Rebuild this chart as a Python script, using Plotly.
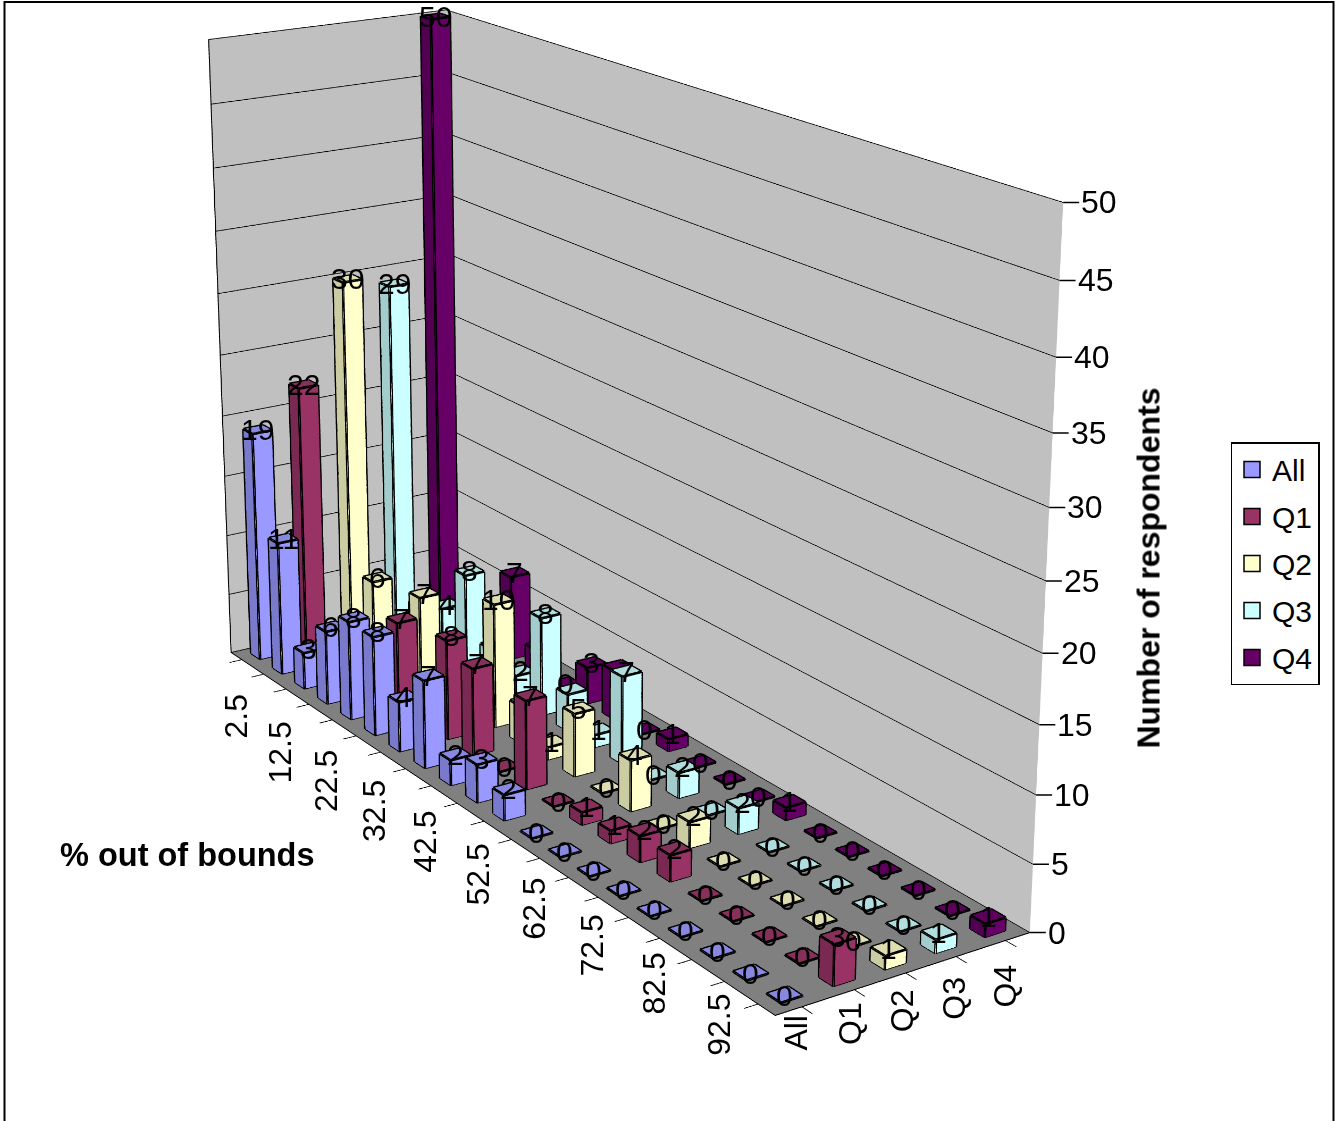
import plotly.graph_objects as go

# bins of % out of bounds, only every other one gets a label
categories = [2.5, 7.5, 12.5, 17.5, 22.5, 27.5, 32.5, 37.5, 42.5, 47.5,
              52.5, 57.5, 62.5, 67.5, 72.5, 77.5, 82.5, 87.5, 92.5, 97.5]
tick_labels = ['2.5', '12.5', '22.5', '32.5', '42.5', '52.5', '62.5', '72.5', '82.5', '92.5']
series_names = ['All', 'Q1', 'Q2', 'Q3', 'Q4']
z_ticks = [0, 5, 10, 15, 20, 25, 30, 35, 40, 45, 50]

all_values = [19, 11, 3, 6, 8, 8, 4, 7, 2, 3, 2, 0, 0, 0, 0, 0, 0, 0, 0, 0]
q1_values = [22, 2, 3, 4, 7, 1, 8, 7, 0, 7, 0, 1, 1, 2, 2, 0, 0, 0, 0, 3]
q2_values = [30, 6, 2, 7, 1, 1, 10, 3, 1, 5, 0, 4, 0, 2, 0, 0, 0, 0, 0, 1]
q3_values = [29, 3, 4, 8, 3, 2, 8, 3, 1, 7, 0, 2, 0, 2, 0, 0, 0, 0, 0, 1]
q4_values = [50, 1, 0, 7, 2, 0, 3, 4, 0, 1, 0, 0, 0, 1, 0, 0, 0, 0, 0, 1]
series_values = [all_values, q1_values, q2_values, q3_values, q4_values]

# bars that sit behind others, their numbers can't be seen
hidden_labels = [(1, 1), (1, 2), (1, 3), (1, 5), (2, 2), (2, 4), (2, 5), (2, 7),
                 (3, 1), (3, 4), (3, 7), (4, 1), (4, 2), (4, 4), (4, 7)]

light = ['#9999FF', '#993366', '#FFFFCC', '#CCFFFF', '#660066']
dark = ['#7A7ACC', '#7A2952', '#CCCCA3', '#A3CCCC', '#520052']
top = ['#8888E0', '#88305C', '#DDDDB0', '#B0DDDD', '#5C005C']

bar_w = 0.41
label_size = 30
axis_size = 32

# plotly's 3d camera has a fixed wide lens, the original is much flatter.
# so draw on a bigger canvas and only show the part around the chart
zoom = 2.5
page_w, page_h = 1339, 1121
canvas_w, canvas_h = int(page_w * zoom), int(page_h * zoom)
off_x = canvas_w / 2 - 592
off_y = canvas_h / 2 - 457


def px(x):
    return (x + off_x) / canvas_w


def py(y):
    return 1 - (y + off_y) / canvas_h


fig = go.Figure()

for j, values in enumerate(series_values):
    xs, ys, zs, fi, fj, fk, fc = [], [], [], [], [], [], []
    ex, ey, ez = [], [], []
    for i, v in enumerate(values):
        h = max(v, 0.05)  # flat ones still have to clear the floor
        x0, x1 = i - bar_w / 2, i + bar_w / 2
        y0, y1 = j - bar_w / 2, j + bar_w / 2
        n = len(xs)
        xs += [x0, x1, x1, x0, x0, x1, x1, x0]
        ys += [y0, y0, y1, y1, y0, y0, y1, y1]
        zs += [0, 0, 0, 0, h, h, h, h]
        faces = [((4, 5, 6), top[j]), ((4, 6, 7), top[j]),
                 ((0, 1, 5), dark[j]), ((0, 5, 4), dark[j]),
                 ((1, 2, 6), light[j]), ((1, 6, 5), light[j]),
                 ((2, 3, 7), light[j]), ((2, 7, 6), light[j]),
                 ((3, 0, 4), dark[j]), ((3, 4, 7), dark[j])]
        for (a, b, c), col in faces:
            fi.append(n + a)
            fj.append(n + b)
            fk.append(n + c)
            fc.append(col)
        for a, b in [(0, 1), (1, 2), (2, 3), (3, 0), (4, 5), (5, 6), (6, 7), (7, 4),
                     (0, 4), (1, 5), (2, 6), (3, 7)]:
            ex += [xs[n + a], xs[n + b], None]
            ey += [ys[n + a], ys[n + b], None]
            ez += [zs[n + a], zs[n + b], None]

    fig.add_trace(go.Mesh3d(
        x=xs, y=ys, z=zs, i=fi, j=fj, k=fk,
        facecolor=fc,
        flatshading=True,
        lighting=dict(ambient=1, diffuse=0, specular=0, roughness=1, fresnel=0),
        hoverinfo='skip',
        showlegend=False,
    ))
    fig.add_trace(go.Scatter3d(
        x=ex, y=ey, z=ez,
        mode='lines',
        line=dict(color='black', width=5),
        hoverinfo='skip',
        showlegend=False,
    ))
    # only here to get the legend swatches
    fig.add_trace(go.Scatter(
        x=[None], y=[None],
        mode='markers',
        name=series_names[j],
        legendgroup=series_names[j],
        marker=dict(symbol='square', size=16, color=light[j], line=dict(color='black', width=1.5)),
    ))

annotations = []
for j, values in enumerate(series_values):
    for i, v in enumerate(values):
        if (j, i) in hidden_labels:
            continue
        annotations.append(dict(x=i, y=j, z=v, text=str(v), showarrow=False,
                                font=dict(size=label_size, color='black')))

for n, label in enumerate(tick_labels):
    annotations.append(dict(x=n * 2, y=-0.5, z=0, text=label, textangle=-90, showarrow=False,
                            xanchor='center', yanchor='top', yshift=-33 + 23 * n / 9, xshift=-6,
                            font=dict(size=axis_size, color='black')))

for j, label in enumerate(series_names):
    annotations.append(dict(x=19.5, y=j, z=0, text=label, textangle=-90, showarrow=False,
                            xanchor='center', yanchor='top', yshift=-6 - 4 * j, xshift=-6 + 1.5 * j,
                            font=dict(size=axis_size, color='black')))

# the z ticks have to sit on the right edge, plotly puts its own on the left
for t in z_ticks:
    annotations.append(dict(x=19.5, y=4.5, z=t, text=str(t), showarrow=True, arrowhead=0,
                            arrowcolor='black', arrowwidth=1.5, standoff=0, ax=16, ay=0,
                            xanchor='left', yanchor='middle',
                            font=dict(size=axis_size, color='black')))

blank_axis = dict(title='', showticklabels=False, showgrid=False, zeroline=False,
                  showspikes=False, showline=True, linecolor='black', linewidth=2,
                  ticks='outside', ticklen=12, tickcolor='black', tickwidth=2)

fig.update_layout(
    width=canvas_w,
    height=canvas_h,
    margin=dict(l=0, r=0, t=0, b=0),
    paper_bgcolor='white',
    plot_bgcolor='white',
    font=dict(family='Liberation Sans', color='black'),
    xaxis=dict(visible=False),
    yaxis=dict(visible=False),
    scene=dict(
        domain=dict(x=[0, 1], y=[0, 1]),
        aspectmode='manual',
        aspectratio=dict(x=1.234, y=0.352, z=0.837),
        camera=dict(
            eye=dict(x=3.186, y=-2.107, z=1.285),
            center=dict(x=0, y=0, z=0),
            up=dict(x=0, y=0, z=1),
        ),
        xaxis=dict(blank_axis, range=[-0.5, 19.5], tickvals=list(range(0, 20)),
                   showbackground=True, backgroundcolor='#C0C0C0'),
        yaxis=dict(blank_axis, range=[-0.5, 4.5], tickvals=list(range(0, 5)),
                   showbackground=True, backgroundcolor='#C0C0C0'),
        zaxis=dict(blank_axis, range=[0, 50], tickvals=z_ticks, showgrid=True, ticks='',
                   gridcolor='black', gridwidth=1.5,
                   showbackground=True, backgroundcolor='#808080'),
        annotations=annotations,
    ),
    legend=dict(
        x=px(1230), y=py(442), xanchor='left', yanchor='top',
        bgcolor='white', bordercolor='black', borderwidth=1.5,
        font=dict(size=label_size, color='black'),
        tracegroupgap=5,
        itemsizing='trace',
        entrywidth=55,
    ),
    annotations=[
        dict(x=px(187), y=py(855), xref='paper', yref='paper', text='<b>% out of bounds</b>',
             showarrow=False, font=dict(size=32.5, color='black')),
        dict(x=px(1148), y=py(568), xref='paper', yref='paper', text='<b>Number of respondents</b>',
             textangle=-90, showarrow=False, font=dict(size=32, color='black')),
    ],
    shapes=[
        dict(type='rect', xref='paper', yref='paper', x0=px(4), x1=px(1333), y0=py(1140), y1=py(2),
             line=dict(color='black', width=2)),
    ],
)

# slide the oversized plot under the window
fig.write_html(
    "out.html",
    config={'displayModeBar': False},
    post_script=(
        "document.documentElement.style.overflow='hidden';"
        "document.body.style.overflow='hidden';"
        "document.body.style.position='fixed';"
        "document.body.style.margin='0';"
        "document.body.style.left='%dpx';document.body.style.top='%dpx';" % (-off_x, -off_y)
    ),
)
